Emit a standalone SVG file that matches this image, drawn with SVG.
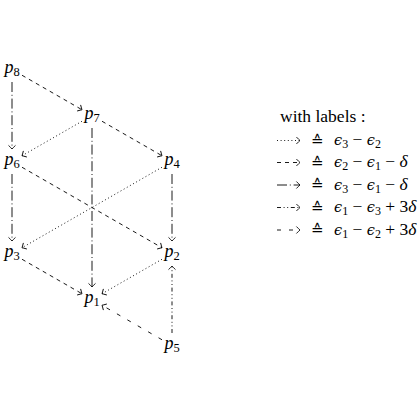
<svg xmlns="http://www.w3.org/2000/svg" width="420" height="420" viewBox="0 0 420 420">
<style>
  .e { fill: none; stroke: #000; stroke-width: 0.9; marker-end: url(#arr); }
  .dashed { stroke-dasharray: 4 4; }
  .dotted { stroke-dasharray: 1 2.6; }
  .dashdot { stroke-dasharray: 10 2.8 1 2.8; }
  .dashdotdot { stroke-dasharray: 4 2.6 1 2.6 1 2.6; }
  .loose { stroke-dasharray: 4 8; }
  .lbl { font-family: "Liberation Serif", "DejaVu Serif", serif; font-size: 18px; fill: #000; text-anchor: middle; }
  .i { font-style: italic; }
  .sub { font-size: 12.5px; font-style: normal; }
  .leg { font-family: "Liberation Serif", "DejaVu Serif", serif; font-size: 17.5px; fill: #000; }
  .sym { font-family: "DejaVu Serif", "DejaVu Sans", serif; font-size: 15px; }
  .eps { font-family: "DejaVu Serif", serif; font-style: italic; font-size: 14.5px; }
  .ls { font-size: 12px; font-style: normal; }
</style>
<defs>
  <marker id="arr" markerUnits="userSpaceOnUse" viewBox="-5 -5 10 10" markerWidth="10" markerHeight="10" refX="0" refY="0" orient="auto" overflow="visible">
    <path d="M -3.6 -3.5 Q -1 -0.8 0 0 Q -1 0.8 -3.6 3.5" fill="none" stroke="#000" stroke-width="0.85" stroke-dasharray="none"/>
  </marker>
</defs>
<rect width="420" height="420" fill="#fff"/>

<g id="connectors">
  <line class="e dashed" x1="22" y1="75.25" x2="82" y2="109.75"/>
  <line class="e dashdot" x1="12" y1="82" x2="12" y2="149"/>
  <line class="e dotted" x1="82" y1="121.25" x2="22" y2="155.75"/>
  <line class="e dashed" x1="102" y1="121.25" x2="162" y2="155.75"/>
  <line class="e dashdot" x1="92" y1="128" x2="92" y2="287"/>
  <line class="e dashdot" x1="12" y1="174" x2="12" y2="241"/>
  <line class="e dashed" x1="22" y1="167.25" x2="162" y2="247.75"/>
  <line class="e dotted" x1="162" y1="167.25" x2="22" y2="247.75"/>
  <line class="e dashdot" x1="172" y1="174" x2="172" y2="241"/>
  <line class="e dashed" x1="22" y1="259.25" x2="82" y2="293.75"/>
  <line class="e dotted" x1="162" y1="259.25" x2="102" y2="293.75"/>
  <line class="e loose" x1="162" y1="339.75" x2="102" y2="305.25"/>
  <line class="e dashdotdot" x1="172" y1="333" x2="172" y2="266"/>
</g>

<g id="p8"><text class="lbl" x="12" y="73"><tspan class="i">p</tspan><tspan class="sub" dy="3">8</tspan></text></g>
<g id="p7"><text class="lbl" x="92" y="119"><tspan class="i">p</tspan><tspan class="sub" dy="3">7</tspan></text></g>
<g id="p6"><text class="lbl" x="12" y="165"><tspan class="i">p</tspan><tspan class="sub" dy="3">6</tspan></text></g>
<g id="p4"><text class="lbl" x="172" y="165"><tspan class="i">p</tspan><tspan class="sub" dy="3">4</tspan></text></g>
<g id="p3"><text class="lbl" x="12" y="257"><tspan class="i">p</tspan><tspan class="sub" dy="3">3</tspan></text></g>
<g id="p2"><text class="lbl" x="172" y="257"><tspan class="i">p</tspan><tspan class="sub" dy="3">2</tspan></text></g>
<g id="p1"><text class="lbl" x="92" y="303"><tspan class="i">p</tspan><tspan class="sub" dy="3">1</tspan></text></g>
<g id="p5"><text class="lbl" x="172" y="349"><tspan class="i">p</tspan><tspan class="sub" dy="3">5</tspan></text></g>

<g id="legend">
  <text class="leg" x="280" y="122">with labels :</text>
  <line class="e dotted" x1="277" y1="140.5" x2="300" y2="140.5"/>
  <line class="e dashed" x1="277" y1="162.5" x2="300" y2="162.5"/>
  <line class="e dashdot" x1="277" y1="185" x2="300" y2="185"/>
  <line class="e dashdotdot" x1="277" y1="207.5" x2="300" y2="207.5"/>
  <line class="e loose" x1="277" y1="230" x2="300" y2="230"/>

  <text class="leg sym" x="311" y="145.5">≙</text>
  <text class="leg sym" x="311" y="167.5">≙</text>
  <text class="leg sym" x="311" y="190">≙</text>
  <text class="leg sym" x="311" y="212.5">≙</text>
  <text class="leg sym" x="311" y="235">≙</text>

  <text class="leg" x="334" y="145"><tspan class="eps">ϵ</tspan><tspan class="ls" dy="3">3</tspan><tspan dy="-3"> − </tspan><tspan class="eps">ϵ</tspan><tspan class="ls" dy="3">2</tspan></text>
  <text class="leg" x="334" y="167"><tspan class="eps">ϵ</tspan><tspan class="ls" dy="3">2</tspan><tspan dy="-3"> − </tspan><tspan class="eps">ϵ</tspan><tspan class="ls" dy="3">1</tspan><tspan dy="-3"> − </tspan><tspan class="i">δ</tspan></text>
  <text class="leg" x="334" y="189.5"><tspan class="eps">ϵ</tspan><tspan class="ls" dy="3">3</tspan><tspan dy="-3"> − </tspan><tspan class="eps">ϵ</tspan><tspan class="ls" dy="3">1</tspan><tspan dy="-3"> − </tspan><tspan class="i">δ</tspan></text>
  <text class="leg" x="334" y="212"><tspan class="eps">ϵ</tspan><tspan class="ls" dy="3">1</tspan><tspan dy="-3"> − </tspan><tspan class="eps">ϵ</tspan><tspan class="ls" dy="3">3</tspan><tspan dy="-3"> + 3</tspan><tspan class="i">δ</tspan></text>
  <text class="leg" x="334" y="234.5"><tspan class="eps">ϵ</tspan><tspan class="ls" dy="3">1</tspan><tspan dy="-3"> − </tspan><tspan class="eps">ϵ</tspan><tspan class="ls" dy="3">2</tspan><tspan dy="-3"> + 3</tspan><tspan class="i">δ</tspan></text>
</g>
</svg>
